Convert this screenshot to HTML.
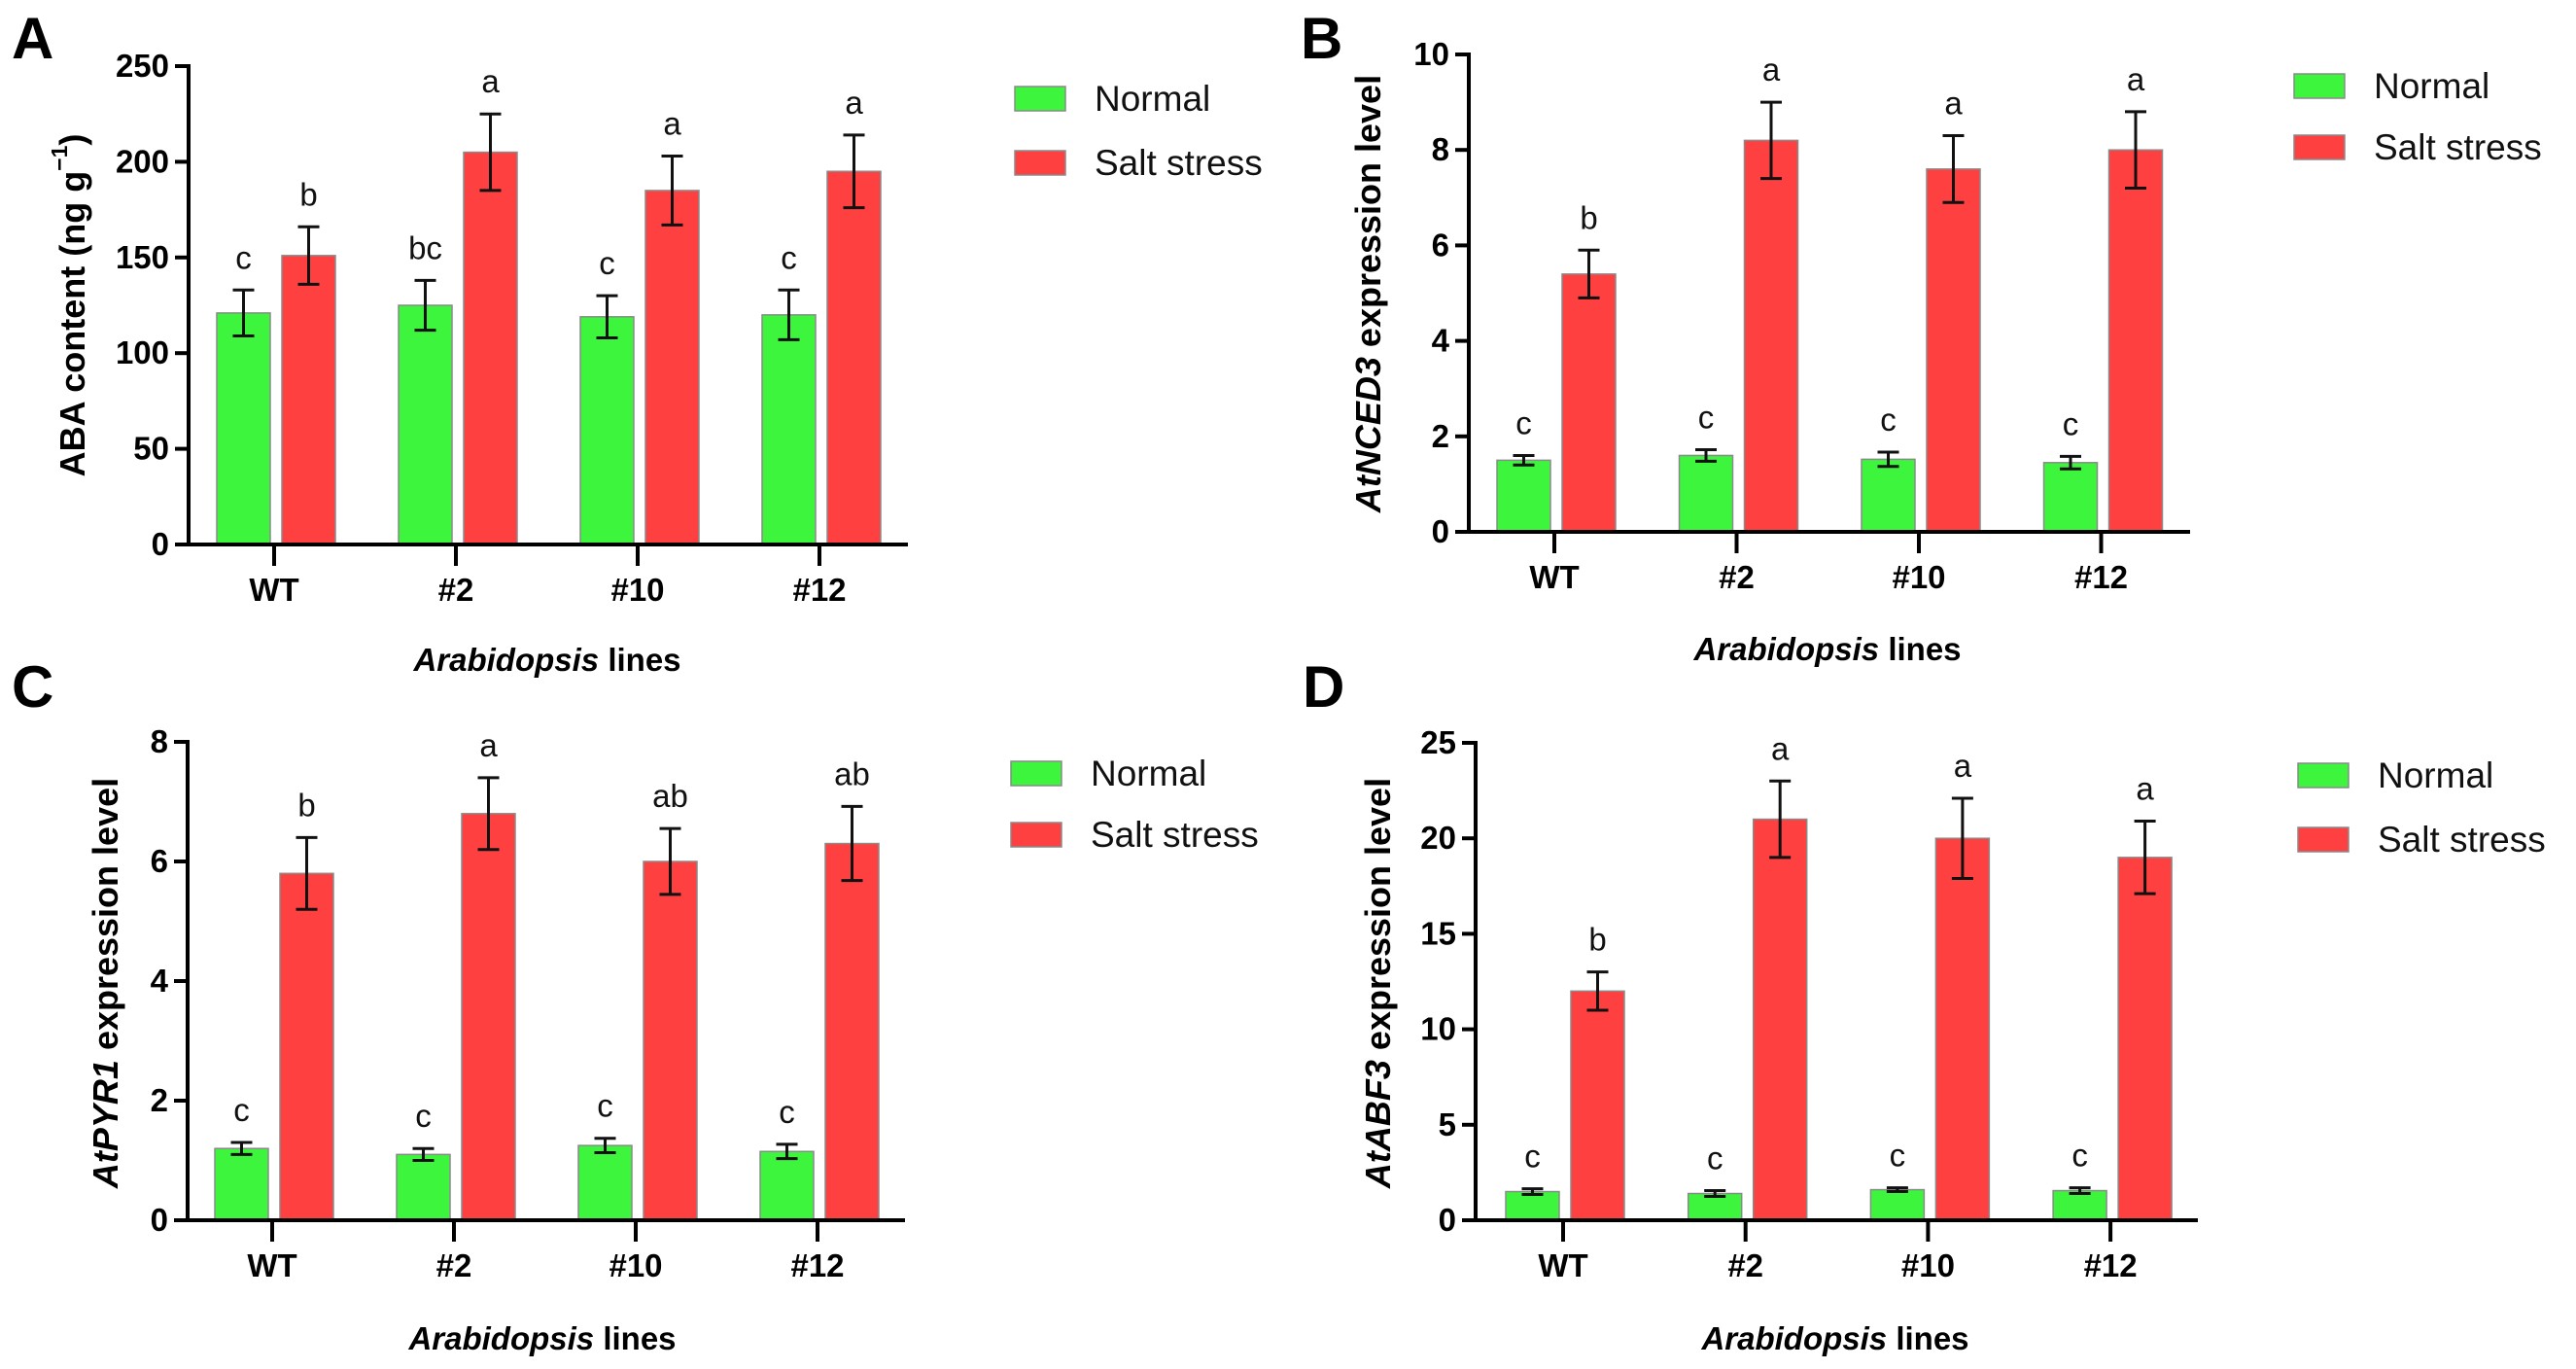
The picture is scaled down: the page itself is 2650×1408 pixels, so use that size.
<!DOCTYPE html>
<html><head><meta charset="utf-8"><style>
html,body{margin:0;padding:0;background:#fff;}
svg{display:block;font-family:"Liberation Sans",Arial,sans-serif;}
</style></head><body>
<svg id="fig" width="2650" height="1408" viewBox="0 0 2650 1408" xmlns="http://www.w3.org/2000/svg"></svg>
<script>
const categories = ["WT","#2","#10","#12"];
const aNormal = [121,125,119,120];
const aNormalErr = [12,13,11,13];
const aSalt = [151,205,185,195];
const aSaltErr = [15,20,18,19];
const aNormalLetters = ["c","bc","c","c"];
const aSaltLetters = ["b","a","a","a"];
const aTicks = [0,50,100,150,200,250];

const bNormal = [1.5,1.6,1.52,1.45];
const bNormalErr = [0.1,0.12,0.15,0.13];
const bSalt = [5.4,8.2,7.6,8.0];
const bSaltErr = [0.5,0.8,0.7,0.8];
const bNormalLetters = ["c","c","c","c"];
const bSaltLetters = ["b","a","a","a"];
const bTicks = [0,2,4,6,8,10];

const cNormal = [1.2,1.1,1.25,1.15];
const cNormalErr = [0.1,0.1,0.12,0.12];
const cSalt = [5.8,6.8,6.0,6.3];
const cSaltErr = [0.6,0.6,0.55,0.62];
const cNormalLetters = ["c","c","c","c"];
const cSaltLetters = ["b","a","ab","ab"];
const cTicks = [0,2,4,6,8];

const dNormal = [1.5,1.4,1.6,1.55];
const dNormalErr = [0.15,0.15,0.1,0.15];
const dSalt = [12,21,20,19];
const dSaltErr = [1,2,2.1,1.9];
const dNormalLetters = ["c","c","c","c"];
const dSaltLetters = ["b","a","a","a"];
const dTicks = [0,5,10,15,20,25];

const NS = "http://www.w3.org/2000/svg";
const svg = document.getElementById("fig");
function mk(tag, attrs, parent, text){
  const e = document.createElementNS(NS, tag);
  for (const k in attrs) e.setAttribute(k, attrs[k]);
  if (text !== undefined) e.textContent = text;
  (parent||svg).appendChild(e);
  return e;
}

function panel(cfg){
  const g = mk("g", {});
  
  
  const ymax = cfg.ticks[cfg.ticks.length-1];
  const y = v => cfg.y0 - (v/ymax)*(cfg.y0-cfg.yTop);
  const xs = categories.map((c,i)=> cfg.xFirst + i*cfg.step);

  const pl = mk("text",{x:cfg.lx,y:cfg.ly,"font-size":60,"font-weight":"bold",fill:"#000"},g,cfg.letter);
  
  

  const series = [
    {vals:cfg.normal, errs:cfg.normalErr, lets:cfg.normalLetters, col:"#3ef53e", off:-59, name:"normal"},
    {vals:cfg.salt, errs:cfg.saltErr, lets:cfg.saltLetters, col:"#ff4040", off:8, name:"salt"}
  ];
  const bw = 55;
  series.forEach(s=>{
    s.vals.forEach((v,i)=>{
      const x = xs[i] + s.off;
      const r = mk("rect",{x:x,y:y(v),width:bw,height:cfg.y0-y(v),fill:s.col,stroke:"#8a8a8a","stroke-width":1.5},g);
      
      
      const cx = x + bw/2;
      const top = y(v + s.errs[i]), bot = y(v - s.errs[i]);
      const eb = mk("path",{d:`M${cx},${top}V${bot}M${cx-11},${top}H${cx+11}M${cx-11},${bot}H${cx+11}`,stroke:"#111","stroke-width":3,fill:"none"},g);
      
      
      const lt = mk("text",{x:cx,y:top-22,"font-size":33,"text-anchor":"middle",fill:"#111"},g,s.lets[i]);
      
      
    });
  });

  const ya = mk("line",{x1:cfg.ax,y1:cfg.yTop-2,x2:cfg.ax,y2:cfg.y0+2,stroke:"#000","stroke-width":4},g);
  
  
  const xa = mk("line",{x1:cfg.ax-2,y1:cfg.y0,x2:cfg.axEnd,y2:cfg.y0,stroke:"#000","stroke-width":4},g);
  
  
  cfg.ticks.forEach(t=>{
    mk("line",{x1:cfg.ax-14,y1:y(t),x2:cfg.ax,y2:y(t),stroke:"#000","stroke-width":4},g);
    const tl = mk("text",{x:cfg.ax-20,y:y(t)+11,"font-size":33,"font-weight":"bold","text-anchor":"end"},g,String(t));
    
    
  });
  categories.forEach((c,i)=>{
    mk("line",{x1:xs[i],y1:cfg.y0,x2:xs[i],y2:cfg.y0+22,stroke:"#000","stroke-width":4},g);
    const tl = mk("text",{x:xs[i],y:cfg.y0+58,"font-size":33,"font-weight":"bold","text-anchor":"middle"},g,c);
    
    
  });

  const xt = mk("text",{x:cfg.xtx,y:cfg.xty,"font-size":33,"font-weight":"bold","text-anchor":"middle","dominant-baseline":"middle"},g);
  
  
  mk("tspan",{"font-style":"italic"},xt,"Arabidopsis");
  mk("tspan",{},xt," lines");

  const yt = mk("text",{x:0,y:0,"font-size":36,"font-weight":"bold","text-anchor":"middle","dominant-baseline":"middle",transform:`translate(${cfg.ytx},${cfg.yty}) rotate(-90)`},g);
  
  
  cfg.ytitle(yt);

  const items = [["Normal","#3ef53e",cfg.legY1],["Salt stress","#ff4040",cfg.legY2]];
  items.forEach(([lab,col,ly])=>{
    const le = mk("g",{},g);
    
    
    mk("rect",{x:cfg.legX,y:ly-12,width:52,height:25,fill:col,stroke:"#8a8a8a","stroke-width":1.5},le);
    mk("text",{x:cfg.legX+82,y:ly+13,"font-size":37,fill:"#111"},le,lab);
  });
}

panel({letter:"A",lx:12,ly:60,normal:aNormal,normalErr:aNormalErr,salt:aSalt,saltErr:aSaltErr,
  normalLetters:aNormalLetters,saltLetters:aSaltLetters,ticks:aTicks,
  ax:194,axEnd:934,y0:560,yTop:68,xFirst:282,step:187,
  xtx:563,xty:681,ytx:77,yty:314,legX:1044,legY1:101,legY2:167,
  ytitle:t=>{mk("tspan",{},t,"ABA content (ng g");mk("tspan",{dy:-14,"font-size":23},t,"−1");mk("tspan",{dy:14},t,")");}});

panel({letter:"B",lx:1338,ly:60,normal:bNormal,normalErr:bNormalErr,salt:bSalt,saltErr:bSaltErr,
  normalLetters:bNormalLetters,saltLetters:bSaltLetters,ticks:bTicks,
  ax:1511,axEnd:2253,y0:547,yTop:56,xFirst:1599,step:187.5,
  xtx:1880,xty:670,ytx:1410,yty:302,legX:2360,legY1:88,legY2:151,
  ytitle:t=>{mk("tspan",{"font-style":"italic"},t,"AtNCED3");mk("tspan",{},t," expression level");}});

panel({letter:"C",lx:12,ly:727,normal:cNormal,normalErr:cNormalErr,salt:cSalt,saltErr:cSaltErr,
  normalLetters:cNormalLetters,saltLetters:cSaltLetters,ticks:cTicks,
  ax:193,axEnd:931,y0:1255,yTop:763,xFirst:280,step:187,
  xtx:558,xty:1379,ytx:111,yty:1011,legX:1040,legY1:795,legY2:858,
  ytitle:t=>{mk("tspan",{"font-style":"italic"},t,"AtPYR1");mk("tspan",{},t," expression level");}});

panel({letter:"D",lx:1340,ly:727,normal:dNormal,normalErr:dNormalErr,salt:dSalt,saltErr:dSaltErr,
  normalLetters:dNormalLetters,saltLetters:dSaltLetters,ticks:dTicks,
  ax:1518,axEnd:2261,y0:1255,yTop:764,xFirst:1608,step:187.7,
  xtx:1888,xty:1379,ytx:1420,yty:1011,legX:2364,legY1:797,legY2:863,
  ytitle:t=>{mk("tspan",{"font-style":"italic"},t,"AtABF3");mk("tspan",{},t," expression level");}});
</script>
</body></html>
